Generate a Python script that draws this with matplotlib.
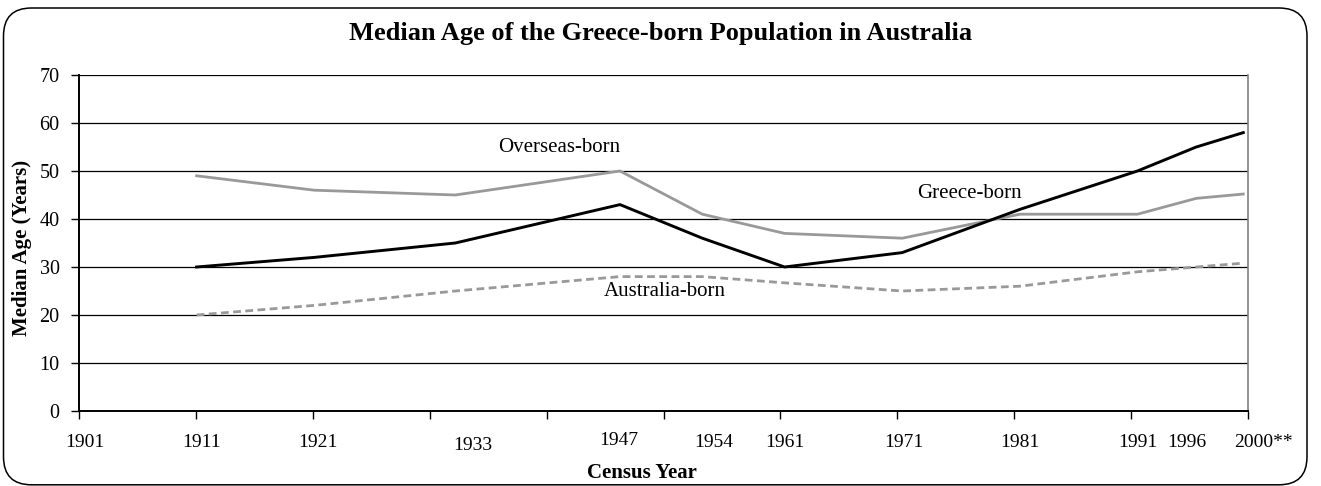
import numpy as np
import matplotlib.pyplot as plt
from matplotlib.patches import FancyBboxPatch
import matplotlib.transforms as mtransforms

plt.rcParams['font.family'] = ['Liberation Serif', 'DejaVu Serif']

### Donnees
annees = [1911, 1921, 1933, 1947, 1954, 1961, 1971, 1981, 1991, 1996, 2000]
greece_born = [30, 32, 35, 43, 36, 30, 33, 42, 50, 55, 58]
overseas_born = [49, 46, 45, 50, 41, 37, 36, 41, 41, 44.3, 45.2]
australia_born = [20, 22, 25, 28, 28, 26.7, 25, 26, 29, 30, 30.8]

labels_x = ['1901', '1911', '1921', '1933', '1947', '1954', '1961', '1971', '1981', '1991', '1996', '2000**']
annees_labels = [1901, 1911, 1921, 1933, 1947, 1954, 1961, 1971, 1981, 1991, 1996, 2000]
# petits decalages des etiquettes (comme dans l'original)
decal_x = [0.5, 0.4, 0.3, 1.5, -0.1, 1.0, 0.0, 0.1, 0.0, 0.0, -0.8, 1.7]
decal_y = [-0.095, -0.095, -0.095, -0.104, -0.089, -0.095, -0.095, -0.095, -0.095, -0.095, -0.095, -0.095]


fig = plt.figure(figsize=(13.21, 4.86), dpi=100)
ax = fig.add_axes([79/1321, 75/486, (1248-79)/1321, (411-75)/486])

ax.set_xlim(1901, 2000.4)
ax.set_ylim(0, 70)
ax.set_yticks(range(0, 71, 10))
ax.set_xticks(np.linspace(1901, 2000.4, 11))
ax.set_xticklabels([])
ax.tick_params(axis='y', direction='out', length=6, width=1, labelsize=14.5, pad=8)
ax.tick_params(axis='x', direction='out', length=6, width=1)

for v in range(10, 71, 10):
    ax.axhline(v, color='black', lw=0.9, zorder=1)

ax.spines['left'].set_linewidth(1.4)
ax.spines['bottom'].set_linewidth(1.4)
ax.spines['top'].set_visible(False)
ax.spines['right'].set_color('#808080')
ax.spines['right'].set_linewidth(1.2)

ax.plot(annees, overseas_born, color='#999999', lw=2, solid_joinstyle='round', zorder=3)
ax.plot(annees, australia_born, color='#999999', lw=2, linestyle=(0, (2.8, 1.6)), zorder=3)
ax.plot(annees, greece_born, color='black', lw=2.1, solid_joinstyle='round', zorder=4)

ax.text(1941.8, 55, 'Overseas-born', fontsize=15, ha='center', va='center')
ax.text(1950.8, 24.8, 'Australia-born', fontsize=15, ha='center', va='center')
ax.text(1976.7, 45.4, 'Greece-born', fontsize=15, ha='center', va='center')

trans = mtransforms.blended_transform_factory(ax.transData, ax.transAxes)
for lab, an, dx, dy in zip(labels_x, annees_labels, decal_x, decal_y):
    ax.text(an + dx, dy, lab, transform=trans, fontsize=14, ha='center', va='center')

fig.text(0.5, 0.932, 'Median Age of the Greece-born Population in Australia',
         fontsize=19, fontweight='bold', ha='center', va='center')
fig.text(0.486, 0.027, 'Census Year', fontsize=15, fontweight='bold', ha='center', va='center')
fig.text(0.0167, 0.49, 'Median Age (Years)', fontsize=15, fontweight='bold',
         ha='center', va='center', rotation=90)

# cadre arrondi autour du graphique
cadre = FancyBboxPatch((0.035, 0.012), 13.035, 4.768,
                       boxstyle='round,pad=0,rounding_size=0.28',
                       transform=fig.dpi_scale_trans, fill=False, ec='black', lw=1.1)
fig.patches.append(cadre)

fig.savefig('out.png', dpi=100)
